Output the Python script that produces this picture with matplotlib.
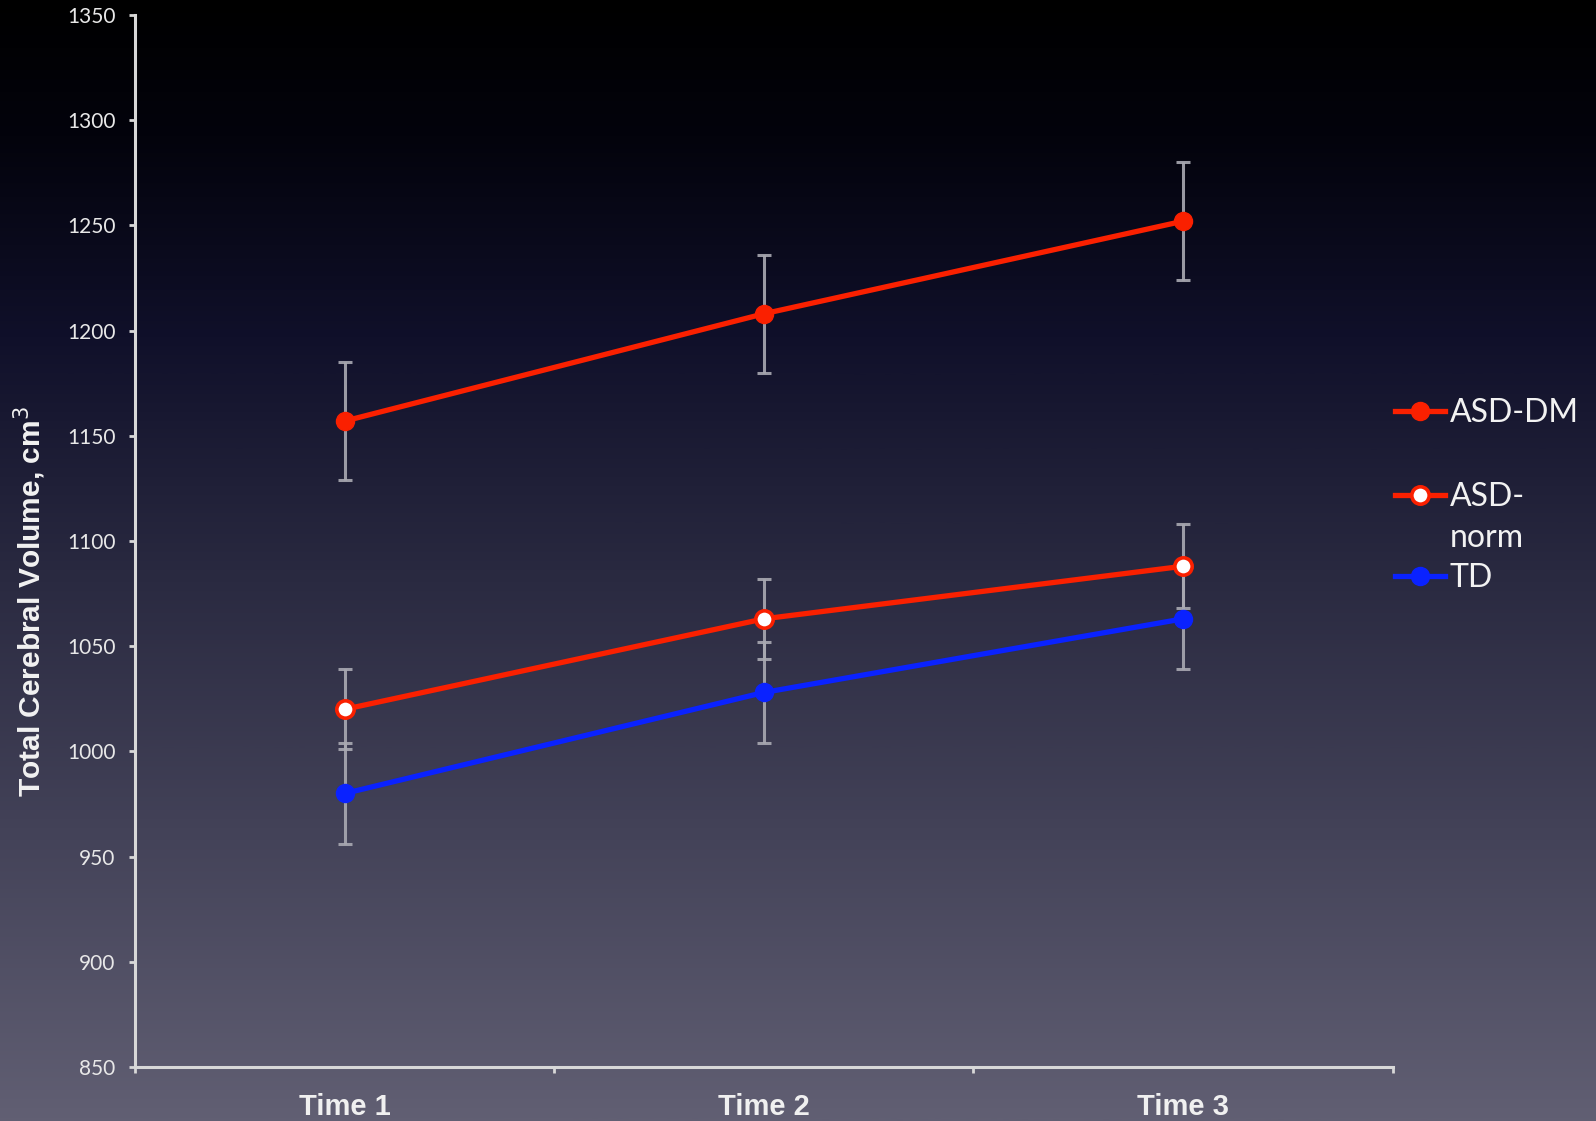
import numpy as np
import matplotlib.pyplot as plt
from matplotlib.colors import LinearSegmentedColormap
from matplotlib.lines import Line2D

# group means and error bar half-widths at each time point
times = ["Time 1", "Time 2", "Time 3"]
asd_dm = [1157, 1208, 1252]
asd_dm_err = [28, 28, 28]
asd_norm = [1020, 1063, 1088]
asd_norm_err = [19, 19, 20]
td = [980, 1028, 1063]
td_err = [24, 24, 24]

red = "#fa2000"
blue = "#0a22ff"
err_col = "#a9a9b2"

fig = plt.figure(figsize=(15.96, 11.21), dpi=100)

# dark vertical gradient behind everything
bg = fig.add_axes([0, 0, 1, 1], zorder=-10)
cmap = LinearSegmentedColormap.from_list(
    "bg", [(0.0, "#000000"), (0.12, "#03030c"), (0.3, "#10102a"),
           (0.5, "#28283f"), (0.75, "#444359"), (1.0, "#615f73")])
grad = np.linspace(0, 1, 512).reshape(-1, 1)
bg.imshow(grad, aspect="auto", cmap=cmap, extent=[0, 1, 0, 1], origin="upper")
bg.axis("off")

ax = fig.add_axes([0.0846, 0.0482, 0.788, 0.9384])
ax.patch.set_alpha(0)

x = np.arange(len(times)) + 0.5

for vals, errs in [(asd_dm, asd_dm_err), (asd_norm, asd_norm_err), (td, td_err)]:
    ax.errorbar(x, vals, yerr=errs, fmt="none", ecolor=err_col, elinewidth=2.2,
                capsize=5, capthick=2.2, alpha=0.9, zorder=2)

dm_style = dict(color=red, marker="o", ms=13, mfc=red, mec=red)
norm_style = dict(color=red, marker="o", ms=12.5, mfc="white", mec=red, mew=2.6)
td_style = dict(color=blue, marker="o", ms=13, mfc=blue, mec=blue)

ax.plot(x, asd_dm, lw=3.8, zorder=4, **dm_style)
ax.plot(x, asd_norm, lw=3.8, zorder=4, **norm_style)
ax.plot(x, td, lw=3.8, zorder=3, **td_style)

ax.set_xlim(0, 3)
ax.set_ylim(850, 1350)
ax.set_yticks(np.arange(850, 1351, 50))
ax.set_yticklabels([str(v) for v in range(850, 1351, 50)], family="Lato",
                   fontsize=15, color="#e8e8e8")

ax.set_xticks([0, 1, 2, 3])
ax.set_xticklabels([])
ax.set_xticks(x, minor=True)
ax.set_xticklabels(times, minor=True, family="Liberation Sans", fontweight="bold",
                   fontsize=21, color="#f0f0f0")
ax.tick_params(axis="x", which="minor", length=0, pad=19)
ax.tick_params(axis="both", which="major", direction="out", length=4, width=2,
               color="#d8d8d8")
ax.tick_params(axis="y", pad=10)

for side in ["top", "right"]:
    ax.spines[side].set_visible(False)
for side in ["left", "bottom"]:
    ax.spines[side].set_color("#d8d8d8")
    ax.spines[side].set_linewidth(2.2)

ax.set_ylabel("Total Cerebral Volume, cm$^3$", family="Liberation Sans",
              fontweight="bold", fontsize=21.5, color="#f2f2f2")
ax.yaxis.set_label_coords(-0.069, 0.442)

# legend drawn by hand to the right of the plot area
entries = [("ASD-DM", dm_style, 0.624), ("ASD-", norm_style, 0.544), ("TD", td_style, 0.4665)]
for label, style, yy in entries:
    ax.add_line(Line2D([1.0016, 1.042], [yy, yy], transform=ax.transAxes,
                       clip_on=False, color=style["color"], lw=3.8))
    ax.add_line(Line2D([1.022], [yy], transform=ax.transAxes, clip_on=False,
                       lw=0, **style))
    ax.text(1.0454, yy - 0.002, label, transform=ax.transAxes, family="Lato",
            fontsize=23, color="#f2f2f2", va="center", ha="left")
ax.text(1.0454, 0.5024, "norm", transform=ax.transAxes, family="Lato",
        fontsize=23, color="#f2f2f2", va="center", ha="left")

fig.savefig("out.png", dpi=100)
